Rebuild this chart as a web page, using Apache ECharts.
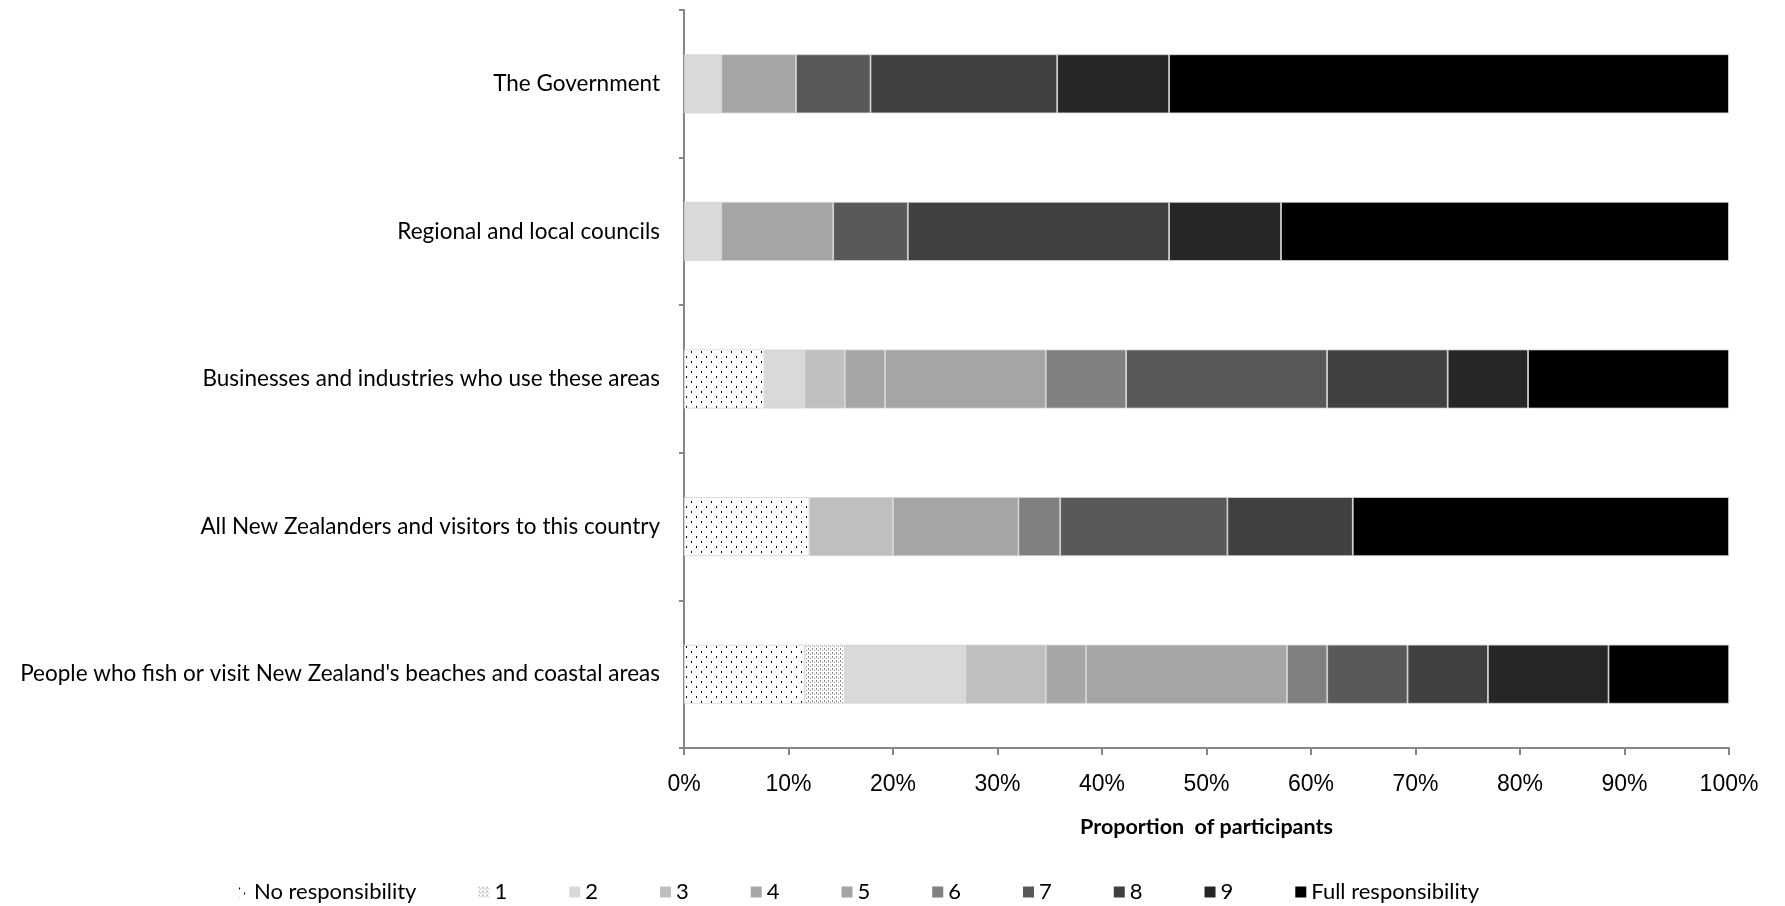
<!DOCTYPE html>
<html>
<head>
<meta charset="utf-8">
<script src="https://cdn.jsdelivr.net/npm/echarts@6/dist/echarts.min.js"></script>
<style>
html,body{margin:0;padding:0;background:#fff;}
#chart{width:1785px;height:906px;}
</style>
</head>
<body>
<div id="chart"></div>
<script>
const categories = [
  'The Government',
  'Regional and local councils',
  'Businesses and industries who use these areas',
  'All New Zealanders and visitors to this country',
  "People who fish or visit New Zealand's beaches and coastal areas"
];
const seriesNames = ['No responsibility','1','2','3','4','5','6','7','8','9','Full responsibility'];
const noResp = [0, 0, 7.69, 12, 11.54];
const lvl1   = [0, 0, 0, 0, 3.85];
const lvl2   = [3.57, 3.57, 3.85, 0, 11.54];
const lvl3   = [0, 0, 3.85, 8, 7.69];
const lvl4   = [0, 0, 3.85, 0, 3.85];
const lvl5   = [7.14, 10.71, 15.38, 12, 19.23];
const lvl6   = [0, 0, 7.69, 4, 3.85];
const lvl7   = [7.14, 7.14, 19.23, 16, 7.69];
const lvl8   = [17.86, 25.0, 11.54, 12, 7.69];
const lvl9   = [10.71, 10.71, 7.69, 0, 11.54];
const fullResp = [53.57, 42.86, 19.23, 36, 11.54];
const xTicks = [0,10,20,30,40,50,60,70,80,90,100];

const seriesValues = [noResp, lvl1, lvl2, lvl3, lvl4, lvl5, lvl6, lvl7, lvl8, lvl9, fullResp];

function dotPattern(size, dots, color) {
  const c = document.createElement('canvas');
  c.width = size; c.height = size;
  const ctx = c.getContext('2d');
  ctx.fillStyle = '#ffffff';
  ctx.fillRect(0, 0, size, size);
  ctx.fillStyle = color;
  dots.forEach(d => ctx.fillRect(d[0], d[1], d[2], d[3]));
  return c;
}
const patNo = dotPattern(10, [[1,1,1,2],[6,6,1,2]], '#000000');
const pat1 = dotPattern(4, [[0,0,1,2],[2,2,1,1]], '#8a8a8a');

const colors = [
  {image: patNo, repeat: 'repeat'},
  {image: pat1, repeat: 'repeat'},
  '#d9d9d9','#bfbfbf','#a6a6a6','#a5a5a5','#808080','#595959','#404040','#262626','#000000'
];

const chart = echarts.init(document.getElementById('chart'));
const series = seriesNames.map((name, i) => ({
  name: name,
  type: 'bar',
  stack: 'total',
  barWidth: 59,
  data: seriesValues[i].map(v => v === 0 ? null : v),
  itemStyle: {color: colors[i], borderColor: '#d4d4d4', borderWidth: 0.8},
  emphasis: {disabled: true}
}));

chart.setOption({
  animation: false,
  backgroundColor: '#ffffff',
  grid: {left: 684, right: 56, top: 10, bottom: 158, containLabel: false},
  legend: {
    data: seriesNames,
    left: 233,
    top: 876,
    icon: 'rect',
    itemWidth: 11,
    itemHeight: 11,
    itemGap: 62,
    itemStyle: {borderWidth: 0},
    textStyle: {fontFamily: 'Lato', fontSize: 22, color: '#000'}
  },
  xAxis: {
    type: 'value',
    min: 0,
    max: 100,
    interval: 10,
    name: 'Proportion  of participants',
    nameLocation: 'middle',
    nameGap: 68,
    nameTextStyle: {fontFamily: 'Lato', fontWeight: 'bold', fontSize: 21.5, color: '#000'},
    axisLine: {show: true, lineStyle: {color: '#868686', width: 2}},
    axisTick: {show: true, length: 7, lineStyle: {color: '#868686', width: 2}},
    axisLabel: {
      fontFamily: 'Liberation Sans', fontSize: 23, color: '#000', margin: 25,
      formatter: v => xTicks.includes(v) ? v + '%' : ''
    },
    splitLine: {show: false}
  },
  yAxis: {
    type: 'category',
    inverse: true,
    data: categories,
    axisLine: {show: true, lineStyle: {color: '#868686', width: 2}},
    axisTick: {show: true, length: 5, lineStyle: {color: '#868686', width: 2}},
    axisLabel: {fontFamily: 'Lato', fontSize: 22.5, color: '#000', margin: 24}
  },
  series: series
});
</script>
</body>
</html>
